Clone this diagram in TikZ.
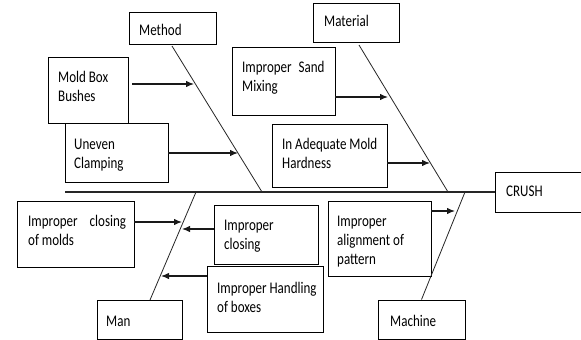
\documentclass[tikz,border=0pt]{standalone}
\usepackage{fontspec}
\setmainfont{Carlito}
\usepackage{graphicx}
\usetikzlibrary{fit,arrows.meta}
\newcommand\boxtext[1]{\scalebox{1}[1.25]{\fontsize{13}{15.2}\selectfont\begin{tabular}[t]{@{}l@{}}#1\end{tabular}}}
\tikzset{
  cbox/.style={draw=black, line width=0.9pt, inner sep=0pt, fill=white},
  txt/.style={anchor=base west, inner sep=0pt, font=\fontsize{13}{15.2}\selectfont},
  bone/.style={draw=black!85, line width=0.8pt},
  spine/.style={draw=black!85, line width=2.4pt},
  arr/.style={draw=black!90, line width=1.2pt, -{Latex[length=8pt,width=6.5pt]}},
}
\begin{document}
\begin{tikzpicture}[x=1pt,y=-1pt]
\clip (0,0) rectangle (581,340);
\fill[white] (0,0) rectangle (581,340);

% boxes
\node[cbox, fit={(129,12)(216,44)}] (method) {};
\node[cbox, fit={(313,3)(399,42)}] (material) {};
\node[cbox, fit={(48,57)(128,123)}] (mold) {};
\node[cbox, fit={(65,123)(168,182)}] (uneven) {};
\node[cbox, fit={(232,47)(335,115)}] (sand) {};
\node[cbox, fit={(272,124)(387,187)}] (hard) {};
\node[cbox, fit={(495,172)(600,212)}] (crush) {};
\node[cbox, fit={(17,201)(134,267)}] (closemold) {};
\node[cbox, fit={(214,205)(318,264)}] (closing) {};
\node[cbox, fit={(207,266)(323,332)}] (handling) {};
\node[cbox, fit={(328,201)(431,276)}] (align) {};
\node[cbox, fit={(97,300)(182,339)}] (man) {};
\node[cbox, fit={(378,300)(465,339)}] (machine) {};

% texts
\node[txt] (methodT) at (139,35) {\boxtext{Method}};
\node[txt] (materialT) at (324,27) {\boxtext{Material}};
\node[txt] (moldT) at (58,82) {\boxtext{Mold Box\\Bushes}};
\node[txt] (unevenT) at (74,149) {\boxtext{Uneven\\Clamping}};
\node[txt] (sandT) at (242,72) {\boxtext{Improper\hspace{7pt}Sand\\Mixing}};
\node[txt] (hardT) at (282,149) {\boxtext{In Adequate Mold\\Hardness}};
\node[txt] (crushT) at (506,196) {\boxtext{CRUSH}};
\node[txt] (closemoldT) at (28,226) {\boxtext{Improper\hspace{12pt}closing\\of molds}};
\node[txt] (closingT) at (224,230) {\boxtext{Improper\\closing}};
\node[txt] (handlingT) at (217,293) {\boxtext{Improper Handling\\of boxes}};
\node[txt] (alignT) at (337,226) {\boxtext{Improper\\alignment of\\pattern}};
\node[txt] (manT) at (106,326) {\boxtext{Man}};
\node[txt] (machineT) at (390,326) {\boxtext{Machine}};

% spine and bones
\coordinate (tail) at (65,192);
\coordinate (mhead) at (262,192);
\coordinate (mtop) at (172,46);
\coordinate (mathead) at (448,192);
\coordinate (mattop) at (359,45);
\coordinate (manhead) at (196,192);
\coordinate (manend) at (150,300);
\coordinate (machhead) at (465,192);
\draw[spine] (tail) -- (crush.west);
\draw[bone] (mtop) -- (mhead);
\draw[bone] (mattop) -- (mathead);
\draw[bone] (manhead) -- (manend);
\draw[bone] (machhead) -- (machine.north);

% arrow tips
\coordinate (t1) at (194,84);
\coordinate (t2) at (238,153);
\coordinate (t3) at (388,97);
\coordinate (t4) at (430,163);
\coordinate (t5) at (182,222);
\coordinate (t6) at (182,229);
\coordinate (t7) at (161,276);
\coordinate (t8) at (455,211);

\draw[arr] ([xshift=4pt]mold.east |- t1) -- (t1);
\draw[arr] (uneven.east |- t2) -- (t2);
\draw[arr] (sand.east |- t3) -- (t3);
\draw[arr] (hard.east |- t4) -- (t4);
\draw[arr] (closemold.east |- t5) -- (t5);
\draw[arr] (closing.west |- t6) -- (t6);
\draw[arr] (handling.west |- t7) -- (t7);
\draw[arr] (align.east |- t8) -- (t8);
\end{tikzpicture}
\end{document}
